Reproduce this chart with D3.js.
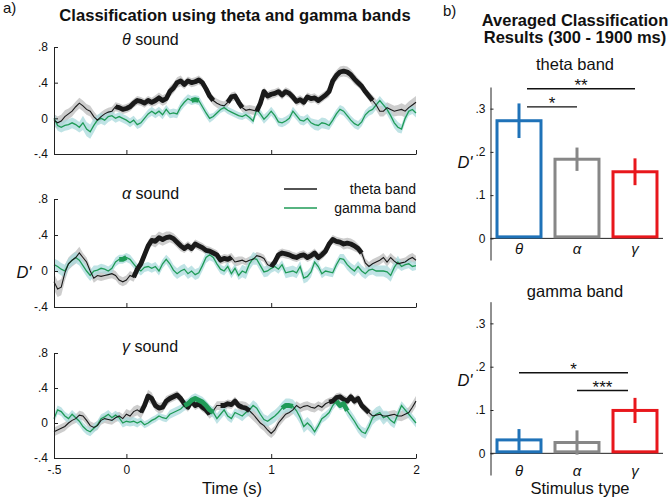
<!DOCTYPE html>
<html><head><meta charset="utf-8">
<script src="https://cdn.jsdelivr.net/npm/d3@7"></script>
<style>body{margin:0;background:#fff} svg{display:block} text{font-family:"Liberation Sans",Arial,sans-serif;fill:#111}</style>
</head><body><svg id="c" width="670" height="500"></svg>
<script>
// ---------- DATA ----------
const timeStart = -0.5, timeStep = 0.025; // sampling grid of the time courses
const theta1 = [-0.02,-0.05,-0.03,0.02,0.05,0.08,0.13,0.17,0.14,0.1,0.08,0.02,-0.02,0.02,0.05,0.07,0.08,0.13,0.12,0.1,0.11,0.13,0.17,0.2,0.19,0.17,0.2,0.18,0.2,0.23,0.2,0.22,0.3,0.34,0.4,0.42,0.38,0.42,0.4,0.41,0.43,0.4,0.33,0.25,0.2,0.17,0.15,0.14,0.18,0.24,0.25,0.18,0.12,0.09,0.1,0.09,0.08,0.17,0.3,0.25,0.27,0.28,0.3,0.26,0.3,0.28,0.24,0.19,0.21,0.18,0.24,0.22,0.23,0.2,0.23,0.26,0.3,0.42,0.48,0.52,0.53,0.52,0.49,0.44,0.4,0.36,0.3,0.25,0.2,0.15,0.08,0.08,0.12,0.1,0.08,0.09,0.1,0.08,0.12,0.15,0.18];
const gamma1 = [0.0,-0.08,-0.1,-0.08,-0.07,-0.05,-0.07,-0.1,-0.05,-0.12,-0.15,-0.08,-0.02,0.0,-0.02,0.02,0.03,0.0,0.02,0.0,-0.02,-0.05,-0.02,-0.07,-0.05,0.0,0.05,0.08,0.05,0.08,0.04,0.1,0.05,0.06,0.05,0.13,0.18,0.22,0.2,0.21,0.2,0.13,0.06,0.0,0.02,0.06,0.1,0.12,0.09,0.07,0.05,0.03,0.02,0.04,0.01,-0.03,0.1,0.05,-0.01,0.03,0.08,0.03,-0.04,-0.05,-0.03,0.0,0.08,0.03,-0.02,-0.03,0.0,-0.05,-0.07,-0.08,-0.05,-0.06,-0.08,-0.02,0.05,0.1,0.08,0.03,-0.02,-0.06,-0.08,-0.04,0.04,0.08,0.1,0.15,0.2,0.15,0.1,0.03,-0.05,-0.1,-0.12,0.0,0.08,0.1,0.06];
const theta2 = [-0.12,-0.2,-0.18,-0.02,0.08,0.12,0.15,0.2,0.15,0.1,0.0,-0.08,-0.05,-0.06,-0.05,-0.04,-0.03,-0.05,-0.1,-0.12,-0.1,-0.05,-0.07,0.02,0.08,0.18,0.28,0.34,0.33,0.37,0.35,0.37,0.38,0.36,0.32,0.28,0.25,0.28,0.25,0.3,0.28,0.26,0.23,0.22,0.2,0.18,0.12,0.14,0.13,0.15,0.1,0.11,0.12,0.1,0.12,0.13,0.17,0.16,0.14,0.07,0.05,0.1,0.18,0.2,0.19,0.18,0.16,0.15,0.17,0.18,0.15,0.17,0.2,0.15,0.18,0.22,0.3,0.35,0.33,0.32,0.3,0.31,0.3,0.28,0.25,0.2,0.09,0.05,0.08,0.1,0.12,0.15,0.1,0.15,0.11,0.08,0.09,0.1,0.13,0.15,0.12];
const gamma2 = [0.07,0.05,0.02,0.0,0.08,0.12,0.15,0.12,0.06,0.0,-0.05,0.0,0.01,0.03,0.02,0.0,0.03,0.1,0.13,0.13,0.15,0.13,0.08,0.03,0.0,0.04,0.05,0.03,0.05,0.0,0.08,0.13,0.08,0.01,-0.03,0.0,0.02,-0.03,0.0,-0.04,-0.02,0.06,0.15,0.18,0.15,0.08,0.02,0.0,0.05,-0.03,0.03,-0.05,0.0,-0.02,0.08,0.14,0.13,0.06,-0.01,0.0,0.03,0.05,0.02,0.07,-0.02,-0.01,0.0,-0.02,0.05,-0.08,-0.06,-0.01,0.1,0.05,-0.03,0.0,-0.01,-0.02,0.07,0.14,0.13,0.07,0.03,0.0,0.05,0.0,-0.03,0.01,0.02,0.0,0.0,0.0,-0.01,-0.05,0.04,0.1,0.05,0.07,0.08,0.05,0.06];
const theta3 = [-0.1,-0.08,-0.06,-0.04,0.0,0.03,0.05,0.09,0.08,0.03,-0.03,-0.05,-0.03,0.03,0.05,0.04,0.03,0.06,0.08,0.05,0.1,0.08,0.13,0.15,0.12,0.2,0.31,0.28,0.2,0.17,0.18,0.25,0.28,0.3,0.32,0.28,0.22,0.18,0.25,0.2,0.22,0.18,0.15,0.1,0.14,0.2,0.2,0.2,0.22,0.21,0.25,0.2,0.18,0.17,0.14,0.1,0.05,0.0,-0.03,-0.08,-0.12,-0.08,0.0,0.05,0.1,0.12,0.15,0.2,0.17,0.19,0.2,0.18,0.17,0.2,0.18,0.22,0.24,0.25,0.29,0.3,0.27,0.25,0.3,0.25,0.28,0.2,0.16,0.12,0.08,0.09,0.1,0.08,0.08,0.09,0.1,0.08,0.08,0.1,0.12,0.18,0.25];
const gamma3 = [0.05,0.15,0.13,0.08,0.05,0.1,0.06,0.02,-0.04,-0.08,-0.1,-0.06,-0.02,0.05,0.07,0.1,0.06,0.09,0.06,0.0,0.02,0.01,0.02,0.0,0.02,-0.02,0.0,0.03,0.05,0.08,0.06,0.05,0.1,0.12,0.14,0.16,0.2,0.22,0.26,0.28,0.26,0.24,0.2,0.15,0.12,0.05,0.1,0.15,0.08,0.05,0.12,0.1,0.08,0.12,0.15,0.2,0.17,0.1,0.04,0.02,0.05,0.08,0.12,0.17,0.2,0.2,0.19,0.14,0.06,-0.04,0.0,-0.04,-0.1,-0.03,0.05,0.08,0.12,0.2,0.25,0.2,0.22,0.14,0.08,0.02,-0.05,-0.1,-0.12,-0.04,0.06,0.1,0.12,0.06,0.08,0.03,0.0,0.1,0.2,0.15,0.1,0.05,0.0];
// standard error, one value per 0.1 s bin from -0.5 s
const semTheta1 = [0.07,0.06,0.06,0.05,0.05,0.05,0.05,0.06,0.06,0.05,0.05,0.05,0.05,0.05,0.05,0.05,0.05,0.05,0.05,0.06,0.06,0.05,0.06,0.06,0.07,0.07];
const semGamma1 = [0.06,0.06,0.08,0.06,0.05,0.05,0.05,0.05,0.05,0.05,0.05,0.04,0.04,0.04,0.05,0.05,0.05,0.05,0.06,0.05,0.05,0.05,0.05,0.06,0.05,0.05];
const semTheta2 = [0.09,0.07,0.05,0.05,0.05,0.05,0.06,0.07,0.06,0.05,0.05,0.05,0.05,0.04,0.04,0.05,0.05,0.05,0.05,0.05,0.06,0.05,0.05,0.05,0.05,0.05];
const semGamma2 = [0.07,0.06,0.06,0.05,0.05,0.05,0.05,0.05,0.06,0.06,0.06,0.05,0.05,0.07,0.06,0.05,0.06,0.06,0.05,0.05,0.06,0.06,0.06,0.07,0.05,0.05];
const semTheta3 = [0.05,0.05,0.05,0.05,0.05,0.06,0.07,0.06,0.05,0.05,0.05,0.05,0.05,0.07,0.06,0.05,0.05,0.05,0.05,0.05,0.05,0.05,0.05,0.05,0.06,0.06];
const semGamma3 = [0.05,0.05,0.05,0.05,0.05,0.05,0.04,0.04,0.05,0.06,0.06,0.06,0.05,0.06,0.06,0.07,0.08,0.07,0.05,0.05,0.06,0.06,0.08,0.06,0.05,0.05];
// significant intervals (s)
const sigTheta1 = [[-0.09,0.62],[0.69,0.8],[0.89,1.7]];
const sigGamma1 = [[0.43,0.5]];
const sigTheta2 = [[0.05,0.73],[0.98,1.64]];
const sigGamma2 = [[-0.07,0.0]];
const sigTheta3 = [[0.1,0.58],[0.64,0.87],[1.38,1.69]];
const sigGamma3 = [[0.38,0.6],[1.07,1.17],[1.43,1.53]];
const soundNames = ["θ","α","γ"];
const xTicks = [-0.5,0,1,2], xTickLabels = ["-.5","0","1","2"];
const yTicks = [-0.4,0,0.4,0.8], yTickLabels = ["-.4","0",".4",".8"];
const legendLabels = ["theta band","gamma band"];
// bar panels
const stimuli = ["θ","α","γ"];
const barTheta = [0.272,0.183,0.154], errTheta = [0.04,0.027,0.031];
const barGamma = [0.031,0.025,0.099], errGamma = [0.025,0.028,0.029];
const barTicks = [0,0.1,0.2,0.3], barTickLabels = ["0",".1",".2",".3"];
const sigBarsTheta = [{a:0,b:1,y:0.304,label:"*"},{a:0,b:2,y:0.346,label:"**"}];
const sigBarsGamma = [{a:0,b:2,y:0.186,label:"*"},{a:1,b:2,y:0.145,label:"***"}];

// ---------- DRAW ----------
const svg = d3.select("#c");
const FONT = '"Liberation Sans",Arial,sans-serif';
const thetaCol = "#1a1a1a", gammaCol = "#1f9b57";
const thetaBand = "#c4c4c4", gammaBand = "#a9d9dc";
const barCols = ["#1f72b8","#878787","#e8171c"];

function txt(x,y,s,size,opt={}){
  const t = svg.append("text").attr("x",x).attr("y",y).attr("font-size",size)
    .attr("text-anchor",opt.anchor||"start");
  if(opt.bold) t.attr("font-weight","bold");
  if(opt.italic) t.attr("font-style","italic");
  return t.text(s);
}

txt(3,13,"a)",15);
txt(235,21,"Classification using theta and gamma bands",16.6,{anchor:"middle",bold:true});
txt(443,16,"b)",15);
txt(575,26,"Averaged Classification",16.5,{anchor:"middle",bold:true});
txt(575,43,"Results (300 - 1900 ms)",16.5,{anchor:"middle",bold:true});

const x = d3.scaleLinear().domain([-0.5,2]).range([54,416]);
const panels = [
  {th:theta1, ga:gamma1, sT:semTheta1, sG:semGamma1, sigT:sigTheta1, sigG:sigGamma1, top:47, bot:154, ly:45},
  {th:theta2, ga:gamma2, sT:semTheta2, sG:semGamma2, sigT:sigTheta2, sigG:sigGamma2, top:199, bot:307, ly:199},
  {th:theta3, ga:gamma3, sT:semTheta3, sG:semGamma3, sigT:sigTheta3, sigG:sigGamma3, top:353, bot:458, ly:352}
];

panels.forEach((p,pi)=>{
  const y = d3.scaleLinear().domain([-0.4,0.8]).range([p.bot,p.top]);
  const g = svg.append("g");
  const mk = (vals,sem)=>vals.map((v,i)=>({t:timeStart+i*timeStep, v, s:sem[Math.floor(i/4)]}));
  const dT = mk(p.th,p.sT), dG = mk(p.ga,p.sG);
  const area = d3.area().x(d=>x(d.t)).y0(d=>y(d.v-d.s)).y1(d=>y(d.v+d.s));
  const line = d3.line().x(d=>x(d.t)).y(d=>y(d.v));
  g.append("path").attr("d",area(dT)).attr("fill",thetaBand).attr("opacity",0.85);
  g.append("path").attr("d",area(dG)).attr("fill",gammaBand).attr("opacity",0.75);
  g.append("path").attr("d",line(dG)).attr("fill","none").attr("stroke",gammaCol).attr("stroke-width",1.3);
  g.append("path").attr("d",line(dT)).attr("fill","none").attr("stroke",thetaCol).attr("stroke-width",1.1);
  const thick = (data,ints,col)=>ints.forEach(([a,b])=>{
    const seg = data.filter(d=>d.t>=a-1e-9 && d.t<=b+1e-9);
    g.append("path").attr("d",line(seg)).attr("fill","none").attr("stroke",col)
      .attr("stroke-width",4.8).attr("stroke-linejoin","round");
  });
  thick(dT,p.sigT,thetaCol);
  thick(dG,p.sigG,gammaCol);

  // axes
  const ya = d3.axisLeft(y).tickValues(yTicks).tickSize(-4).tickSizeOuter(0).tickPadding(6)
    .tickFormat((d,i)=>yTickLabels[i]);
  const yg = svg.append("g").attr("transform",`translate(${x(-0.5)},0)`).call(ya);
  const xa = d3.axisBottom(x).tickValues(xTicks).tickSize(-4).tickSizeOuter(0).tickPadding(7)
    .tickFormat((d,i)=> pi===2 ? xTickLabels[i] : "");
  const xg = svg.append("g").attr("transform",`translate(0,${p.bot})`).call(xa);
  [yg,xg].forEach(a=>{
    a.selectAll("text").attr("font-size",12).attr("font-family",FONT).attr("fill","#111");
    a.selectAll("path,line").attr("stroke","#222");
  });
  const lt = svg.append("text").attr("x",122).attr("y",p.ly).attr("font-size",16);
  lt.append("tspan").attr("font-style","italic").text(soundNames[pi]);
  lt.append("tspan").text(" sound");
});

// legend
[[thetaCol,189,193.5],[gammaCol,208,212.5]].forEach(([c,ly,ty],i)=>{
  svg.append("line").attr("x1",284).attr("x2",317).attr("y1",ly).attr("y2",ly)
    .attr("stroke",c).attr("stroke-width",1.5);
  txt(416,ty,legendLabels[i],14,{anchor:"end"});
});
txt(24,278,"D'",16.5,{anchor:"middle",italic:true});
txt(232,494,"Time (s)",16.5,{anchor:"middle"});

// bar panels
const xb = d3.scaleBand().domain(stimuli).range([490,664]).paddingInner(0.19).paddingOuter(0.095);
const barPanels = [
  {vals:barTheta, errs:errTheta, sig:sigBarsTheta, top:87, bot:260, title:"theta band", ty:70, off:[8,0], dy:168, cy:254},
  {vals:barGamma, errs:errGamma, sig:sigBarsGamma, top:301.7, bot:475, title:"gamma band", ty:297, off:[0,-7], dy:386, cy:476}
];
barPanels.forEach(bp=>{
  const y = d3.scaleLinear().domain([-0.05,0.35]).range([bp.bot,bp.top]);
  const g = svg.append("g");
  txt(575,bp.ty,bp.title,16.5,{anchor:"middle"});
  // baseline
  g.append("line").attr("x1",490.5).attr("x2",663).attr("y1",y(0)).attr("y2",y(0)).attr("stroke","#222");
  stimuli.forEach((s,i)=>{
    const v = bp.vals[i], e = bp.errs[i], c = barCols[i];
    g.append("rect").attr("x",xb(s)+1.5).attr("width",xb.bandwidth()-3)
      .attr("y",y(v)).attr("height",y(0)-y(v)-1.5)
      .attr("fill","#fff").attr("stroke",c).attr("stroke-width",3);
    const cx = xb(s)+xb.bandwidth()/2;
    g.append("line").attr("x1",cx).attr("x2",cx).attr("y1",y(v-e)).attr("y2",y(v+e))
      .attr("stroke",c).attr("stroke-width",3);
  });
  const ya = d3.axisLeft(y).tickValues(barTicks).tickSize(-3).tickSizeOuter(0).tickPadding(5)
    .tickFormat((d,i)=>barTickLabels[i]);
  const yg = svg.append("g").attr("transform",`translate(490.5,0)`).call(ya);
  yg.selectAll("text").attr("font-size",12).attr("font-family",FONT).attr("fill","#111");
  yg.selectAll("path,line").attr("stroke","#222");
  stimuli.forEach(s=>{
    txt(xb(s)+xb.bandwidth()/2, bp.cy, s, 15, {anchor:"middle",italic:true});
  });
  bp.sig.forEach(sg=>{
    const x1 = xb(stimuli[sg.a])+xb.bandwidth()/2 + bp.off[0];
    const x2 = xb(stimuli[sg.b])+xb.bandwidth()/2 + bp.off[1];
    g.append("line").attr("x1",x1).attr("x2",x2).attr("y1",y(sg.y)).attr("y2",y(sg.y))
      .attr("stroke","#111").attr("stroke-width",1.3);
    txt((x1+x2)/2, y(sg.y)+2, sg.label, 17, {anchor:"middle"});
  });
  txt(465,bp.dy,"D'",16.5,{anchor:"middle",italic:true});
});
txt(580,494,"Stimulus type",16.5,{anchor:"middle"});
</script></body></html>
